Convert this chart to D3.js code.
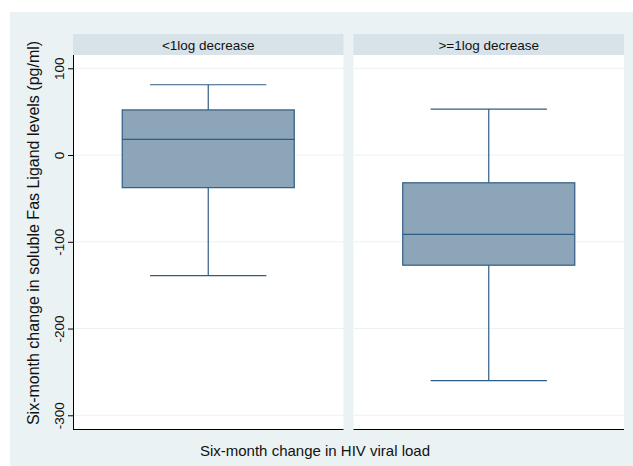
<!DOCTYPE html>
<html>
<head>
<meta charset="utf-8">
<script src="https://cdn.jsdelivr.net/npm/d3@7"></script>
<style>
  html, body { margin: 0; padding: 0; background: #ffffff; }
  svg { display: block; font-family: "Liberation Sans", Arial, sans-serif; }
</style>
</head>
<body>
<script>
// ---- data ----
const groups = ["<1log decrease", ">=1log decrease"];
const upperWhisker = [81, 53];
const q3 = [52, -32];
const median = [18, -91.5];
const q1 = [-37.6, -127];
const lowerWhisker = [-139, -260];
const yTicks = [-300, -200, -100, 0, 100];
const yTitle = "Six-month change in soluble Fas Ligand levels (pg/ml)";
const xTitle = "Six-month change in HIV viral load";

const W = 633, H = 466;
const svg = d3.select("body").append("svg").attr("width", W).attr("height", H);

// graph region background
svg.append("rect").attr("x", 10).attr("y", 12).attr("width", W - 10).attr("height", H - 12)
  .attr("fill", "#eaf2f3");

const plotTop = 55, plotBottom = 429, stripTop = 34;
const x = d3.scaleBand().domain(groups).range([73, 624]).paddingInner(0.0357).paddingOuter(0);
const y = d3.scaleLinear().domain([-315.8, 115.3]).range([plotBottom, plotTop]);
const bw = x.bandwidth();

groups.forEach((g, i) => {
  const x0 = x(g);
  const cx = x0 + bw / 2;
  // strip
  svg.append("rect").attr("x", x0).attr("y", stripTop).attr("width", bw).attr("height", plotTop - stripTop)
    .attr("fill", "#d8e3e9");
  svg.append("text").attr("x", cx).attr("y", 49.5).attr("text-anchor", "middle")
    .attr("font-size", 13.5).attr("fill", "#111").text(g);
  // plot area
  svg.append("rect").attr("x", x0).attr("y", plotTop).attr("width", bw).attr("height", plotBottom - plotTop)
    .attr("fill", "#ffffff");
  // gridlines
  yTicks.forEach(t => {
    svg.append("line").attr("x1", x0).attr("x2", x0 + bw).attr("y1", y(t)).attr("y2", y(t))
      .attr("stroke", "#eaf2f3").attr("stroke-width", 1);
  });
  // whiskers
  const capW = bw * 0.43, boxW = bw * 0.636;
  const stroke = "#2f5c84";
  svg.append("line").attr("x1", cx).attr("x2", cx).attr("y1", y(upperWhisker[i])).attr("y2", y(q3[i]))
    .attr("stroke", stroke).attr("stroke-width", 1.2);
  svg.append("line").attr("x1", cx).attr("x2", cx).attr("y1", y(q1[i])).attr("y2", y(lowerWhisker[i]))
    .attr("stroke", stroke).attr("stroke-width", 1.2);
  svg.append("line").attr("x1", cx - capW / 2).attr("x2", cx + capW / 2)
    .attr("y1", y(upperWhisker[i])).attr("y2", y(upperWhisker[i])).attr("stroke", stroke).attr("stroke-width", 1.2);
  svg.append("line").attr("x1", cx - capW / 2).attr("x2", cx + capW / 2)
    .attr("y1", y(lowerWhisker[i])).attr("y2", y(lowerWhisker[i])).attr("stroke", stroke).attr("stroke-width", 1.2);
  // box
  svg.append("rect").attr("x", cx - boxW / 2).attr("y", y(q3[i])).attr("width", boxW)
    .attr("height", y(q1[i]) - y(q3[i])).attr("fill", "#8da5b9").attr("stroke", stroke).attr("stroke-width", 1.2);
  svg.append("line").attr("x1", cx - boxW / 2).attr("x2", cx + boxW / 2)
    .attr("y1", y(median[i])).attr("y2", y(median[i])).attr("stroke", stroke).attr("stroke-width", 1.4);
  // x axis line
  svg.append("line").attr("x1", x0).attr("x2", x0 + bw).attr("y1", plotBottom + 0.5).attr("y2", plotBottom + 0.5)
    .attr("stroke", "#000").attr("stroke-width", 1);
});

// y axis (left panel only)
const yAxis = d3.axisLeft(y).tickValues(yTicks).tickFormat(d => String(d))
  .tickSize(5).tickSizeOuter(0).tickPadding(3);
const ag = svg.append("g").attr("transform", "translate(73,0)").call(yAxis);
ag.select(".domain").attr("stroke", "#000").attr("d", `M0.5,${plotTop}V${plotBottom + 1}`);
ag.selectAll(".tick line").attr("stroke", "#000");
ag.selectAll(".tick text")
  .attr("font-size", 13.5).attr("fill", "#111")
  .attr("transform", "rotate(-90)")
  .attr("x", 0).attr("y", -9.5)
  .attr("dy", 0)
  .attr("text-anchor", "middle");

// axis titles
svg.append("text").attr("transform", "translate(38.5,233) rotate(-90)").attr("text-anchor", "middle")
  .attr("font-size", 16).attr("fill", "#111").text(yTitle);
svg.append("text").attr("x", 315).attr("y", 456).attr("text-anchor", "middle")
  .attr("font-size", 15).attr("fill", "#111").text(xTitle);
</script>
</body>
</html>
